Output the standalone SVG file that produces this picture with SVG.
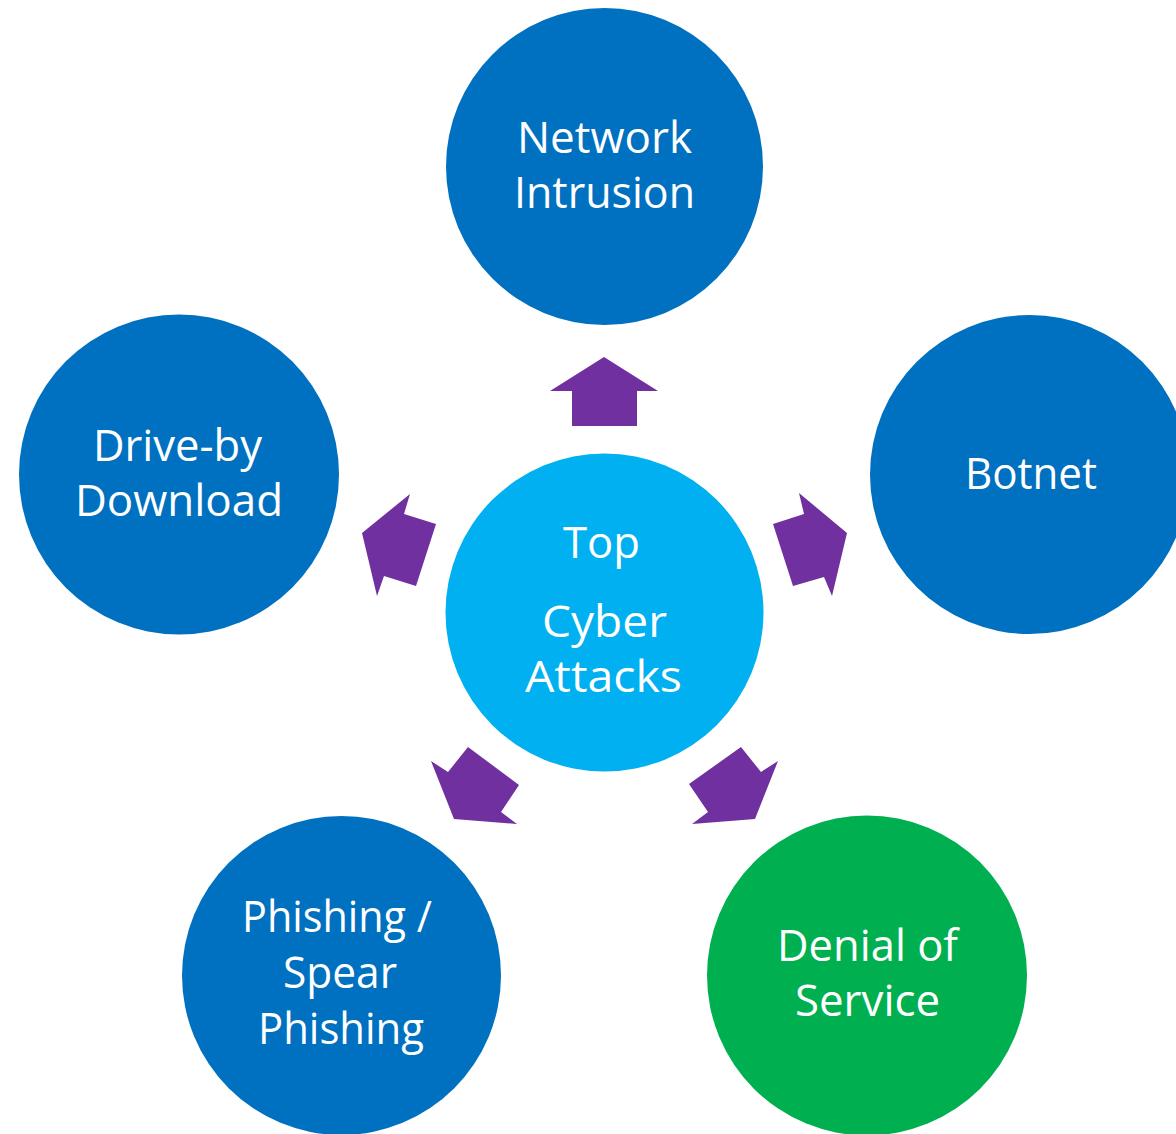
<svg xmlns="http://www.w3.org/2000/svg" width="1176" height="1134" viewBox="0 0 1176 1134">
<style>
.dark{fill:#0070C0}
.light{fill:#00B0F0}
.green{fill:#00B050}
.arrow{fill:#7030A0}
text{font-family:"Open Sans","Noto Sans","Liberation Sans",sans-serif;font-size:43px;fill:#FFFFFF;text-anchor:middle}
</style>
<rect width="1176" height="1134" fill="#FFFFFF"/>
<g id="connectors">
<polygon class="arrow" points="604,357 658,391 637,391 637,426 572,426 572,391 550,391"/>
<polygon class="arrow" points="799,493 847,533 832,596 824,577 793,586 773,524 804,514"/>
<polygon class="arrow" points="410,494 362,533 377,596 384,576 416,586 436,524 404,514"/>
<polygon class="arrow" points="468,747 519,785 501,812 517,824 454,819 431,761 448,772"/>
<polygon class="arrow" points="741,747 761,772 778,761 755,819 692,824 708,812 689,784"/>
</g>
<g id="center">
<circle class="light" cx="604.5" cy="612.5" r="159"/>
<text x="601.5" y="558" textLength="77" lengthAdjust="spacingAndGlyphs">Top</text>
<text x="604.5" y="637" textLength="125" lengthAdjust="spacingAndGlyphs">Cyber</text>
<text x="603.5" y="692" textLength="157" lengthAdjust="spacingAndGlyphs">Attacks</text>
</g>
<g id="network-intrusion">
<circle class="dark" cx="604.5" cy="166.5" r="158.5"/>
<text x="604.5" y="153" textLength="175" lengthAdjust="spacingAndGlyphs">Network</text>
<text x="604.5" y="208" textLength="181" lengthAdjust="spacingAndGlyphs">Intrusion</text>
</g>
<g id="botnet">
<circle class="dark" cx="1029.5" cy="474.5" r="159.5"/>
<text x="1031" y="489" textLength="132" lengthAdjust="spacingAndGlyphs">Botnet</text>
</g>
<g id="drive-by-download">
<circle class="dark" cx="179" cy="474.5" r="160"/>
<text x="177.5" y="461" textLength="169" lengthAdjust="spacingAndGlyphs">Drive-by</text>
<text x="179" y="516" textLength="208" lengthAdjust="spacingAndGlyphs">Download</text>
</g>
<g id="phishing">
<circle class="dark" cx="341.5" cy="975.5" r="159.5"/>
<text x="337" y="932" textLength="190" lengthAdjust="spacingAndGlyphs">Phishing /</text>
<text x="340" y="988" textLength="114" lengthAdjust="spacingAndGlyphs">Spear</text>
<text x="341" y="1044" textLength="166" lengthAdjust="spacingAndGlyphs">Phishing</text>
</g>
<g id="denial-of-service">
<circle class="green" cx="867" cy="975.5" r="160"/>
<text x="867.5" y="961" textLength="181" lengthAdjust="spacingAndGlyphs">Denial of</text>
<text x="867.5" y="1016" textLength="145" lengthAdjust="spacingAndGlyphs">Service</text>
</g>
</svg>
